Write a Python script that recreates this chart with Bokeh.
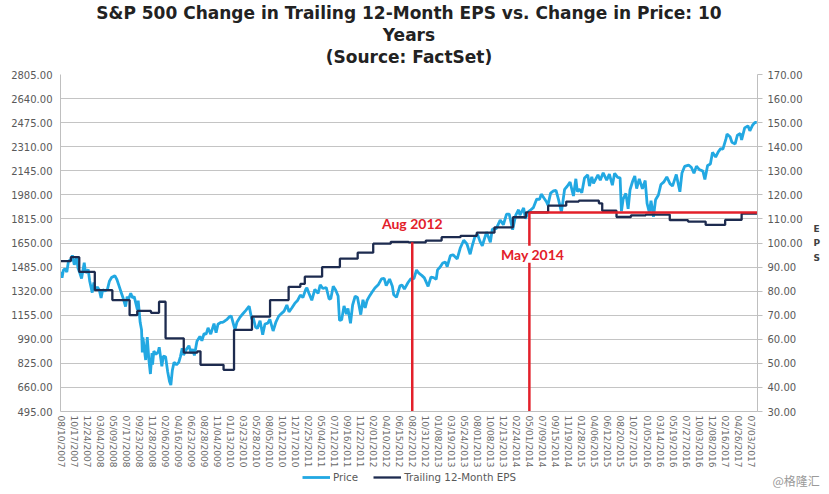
import numpy as np
import pandas as pd
from bokeh.plotting import figure
from bokeh.layouts import column
from bokeh.models import (Range1d, LinearAxis, FixedTicker, PrintfTickFormatter,
                          Legend, LegendItem, Label, Title)
from bokeh.embed import file_html
from bokeh.resources import INLINE

title_lines = ["S&P 500 Change in Trailing 12-Month EPS vs. Change in Price: 10",
               "Years", "(Source: FactSet)"]

x_labels = ["08/10/2007", "10/17/2007", "12/24/2007", "03/04/2008", "05/09/2008", "07/17/2008",
            "09/23/2008", "11/28/2008", "02/06/2009", "04/16/2009", "06/23/2009", "08/28/2009",
            "11/04/2009", "01/13/2010", "03/23/2010", "05/28/2010", "08/05/2010", "10/12/2010",
            "12/17/2010", "02/25/2011", "05/04/2011", "07/12/2011", "09/16/2011", "11/22/2011",
            "02/01/2012", "04/10/2012", "06/15/2012", "08/22/2012", "10/31/2012", "01/08/2013",
            "03/19/2013", "05/24/2013", "08/01/2013", "10/08/2013", "12/13/2013", "02/24/2014",
            "05/01/2014", "07/09/2014", "09/15/2014", "11/19/2014", "01/28/2015", "04/06/2015",
            "06/12/2015", "08/20/2015", "10/27/2015", "01/05/2016", "03/14/2016", "05/19/2016",
            "07/27/2016", "10/03/2016", "12/08/2016", "02/16/2017", "04/26/2017", "07/03/2017"]

price_ticks = [495, 660, 825, 990, 1155, 1320, 1485, 1650, 1815, 1980, 2145, 2310, 2475, 2640, 2805]
eps_ticks = [30, 40, 50, 60, 70, 80, 90, 100, 110, 120, 130, 140, 150, 160, 170]

price_dates = [
    "2007-08-10", "2007-08-16", "2007-08-23", "2007-08-31",
    "2007-09-10", "2007-09-19", "2007-09-28", "2007-10-09", "2007-10-19", "2007-10-31", "2007-11-08",
    "2007-11-15", "2007-11-26", "2007-12-10", "2007-12-17", "2007-12-31",
    "2008-01-08", "2008-01-22", "2008-01-31", "2008-02-08", "2008-02-19", "2008-02-29", "2008-03-10",
    "2008-03-18", "2008-03-31", "2008-04-11", "2008-04-21", "2008-05-02", "2008-05-19", "2008-05-30",
    "2008-06-09", "2008-06-20", "2008-06-30", "2008-07-15", "2008-07-23", "2008-07-31", "2008-08-11",
    "2008-08-20", "2008-08-29", "2008-09-09", "2008-09-15", "2008-09-19", "2008-09-29", "2008-10-06",
    "2008-10-10", "2008-10-13", "2008-10-27", "2008-11-04", "2008-11-12", "2008-11-20", "2008-11-28",
    "2008-12-01", "2008-12-08", "2008-12-19", "2008-12-31",
    "2009-01-06", "2009-01-20", "2009-01-28", "2009-02-09", "2009-02-20", "2009-03-02", "2009-03-09",
    "2009-03-17", "2009-03-26", "2009-04-08", "2009-04-20", "2009-04-29", "2009-05-08", "2009-05-15",
    "2009-05-29", "2009-06-12", "2009-06-23", "2009-07-01", "2009-07-10", "2009-07-23", "2009-08-07",
    "2009-08-17", "2009-08-28", "2009-09-08", "2009-09-18", "2009-10-02", "2009-10-19", "2009-10-30",
    "2009-11-09", "2009-11-24", "2009-12-04", "2009-12-14", "2009-12-28",
    "2010-01-11", "2010-01-19", "2010-02-08", "2010-02-19", "2010-03-05", "2010-03-22", "2010-04-05",
    "2010-04-23", "2010-05-06", "2010-05-14", "2010-05-25", "2010-06-04", "2010-06-18", "2010-07-02",
    "2010-07-14", "2010-07-29", "2010-08-09", "2010-08-26", "2010-09-10", "2010-09-24", "2010-10-08",
    "2010-10-22", "2010-11-05", "2010-11-16", "2010-12-01", "2010-12-15", "2010-12-31",
    "2011-01-14", "2011-01-28", "2011-02-11", "2011-02-18", "2011-03-01", "2011-03-16", "2011-04-01",
    "2011-04-18", "2011-04-29", "2011-05-13", "2011-05-31", "2011-06-15", "2011-06-24", "2011-07-07",
    "2011-07-20", "2011-08-01", "2011-08-08", "2011-08-19", "2011-08-31", "2011-09-12", "2011-09-20",
    "2011-10-03", "2011-10-14", "2011-10-27", "2011-11-08", "2011-11-25", "2011-12-07", "2011-12-19",
    "2011-12-30",
    "2012-01-13", "2012-01-27", "2012-02-10", "2012-02-29", "2012-03-16", "2012-03-30", "2012-04-10",
    "2012-04-27", "2012-05-11", "2012-05-18", "2012-06-01", "2012-06-19", "2012-06-29", "2012-07-12",
    "2012-07-31", "2012-08-14", "2012-08-31", "2012-09-14", "2012-09-28", "2012-10-12", "2012-10-26",
    "2012-11-15", "2012-11-30", "2012-12-14", "2012-12-28",
    "2013-01-04", "2013-01-18", "2013-02-01", "2013-02-15", "2013-02-25", "2013-03-14", "2013-03-28",
    "2013-04-18", "2013-05-03", "2013-05-21", "2013-06-07", "2013-06-24", "2013-07-05", "2013-07-19",
    "2013-08-02", "2013-08-15", "2013-08-27", "2013-09-18", "2013-10-08", "2013-10-18", "2013-11-07",
    "2013-11-27", "2013-12-13", "2013-12-31",
    "2014-01-15", "2014-02-03", "2014-02-20", "2014-03-07", "2014-03-14", "2014-04-02", "2014-04-11",
    "2014-04-25", "2014-05-09", "2014-05-22", "2014-06-09", "2014-06-24", "2014-07-03", "2014-07-17",
    "2014-07-31", "2014-08-07", "2014-08-21", "2014-09-05", "2014-09-18", "2014-10-01", "2014-10-15",
    "2014-10-31", "2014-11-13", "2014-11-28", "2014-12-16", "2014-12-29",
    "2015-01-06", "2015-01-16", "2015-01-30", "2015-02-13", "2015-03-02", "2015-03-11", "2015-03-23",
    "2015-04-01", "2015-04-24", "2015-05-06", "2015-05-21", "2015-06-08", "2015-06-22", "2015-07-08",
    "2015-07-20", "2015-08-05", "2015-08-18", "2015-08-25", "2015-09-03", "2015-09-17", "2015-09-29",
    "2015-10-09", "2015-10-23", "2015-11-03", "2015-11-13", "2015-11-27", "2015-12-14", "2015-12-29",
    "2016-01-08", "2016-01-20", "2016-01-29", "2016-02-11", "2016-02-22", "2016-03-08", "2016-03-21",
    "2016-04-04", "2016-04-20", "2016-05-06", "2016-05-19", "2016-06-08", "2016-06-27", "2016-07-08",
    "2016-07-22", "2016-08-12", "2016-08-26", "2016-09-09", "2016-09-22", "2016-10-07", "2016-10-25",
    "2016-11-04", "2016-11-18", "2016-12-02", "2016-12-13", "2016-12-30",
    "2017-01-13", "2017-01-26", "2017-02-07", "2017-02-24", "2017-03-01", "2017-03-17", "2017-03-27",
    "2017-04-13", "2017-04-25", "2017-05-10", "2017-05-17", "2017-06-02", "2017-06-19", "2017-06-29",
    "2017-07-14", "2017-07-26", "2017-08-04"]

price_values = [
    1453, 1411, 1463, 1474,
    1451, 1529, 1527, 1565, 1501, 1549, 1475, 1452, 1407, 1515, 1445, 1468,
    1390, 1310, 1379, 1331, 1348, 1330, 1273, 1330, 1322, 1332, 1388, 1413, 1426, 1400,
    1361, 1318, 1280, 1214, 1282, 1267, 1305, 1275, 1282, 1224, 1192, 1255, 1106, 1056,
    899, 1003, 848, 1005, 852, 752, 896, 816, 909, 887, 903,
    935, 805, 874, 870, 770, 700, 676, 778, 832, 815, 832, 873, 929, 882,
    919, 946, 895, 923, 879, 976, 1010, 980, 1028, 1025, 1068, 1025, 1097, 1036,
    1093, 1106, 1106, 1114, 1127,
    1146, 1150, 1056, 1109, 1138, 1165, 1187, 1217, 1128, 1135, 1074, 1064, 1117, 1022,
    1095, 1101, 1127, 1047, 1110, 1148, 1166, 1183, 1225, 1178, 1206, 1236, 1258,
    1293, 1276, 1329, 1343, 1306, 1257, 1332, 1305, 1364, 1338, 1345, 1266, 1268, 1354,
    1326, 1287, 1119, 1124, 1219, 1162, 1202, 1099, 1225, 1285, 1276, 1159, 1261, 1206,
    1258,
    1289, 1316, 1342, 1366, 1404, 1408, 1358, 1403, 1353, 1295, 1278, 1357, 1362, 1334,
    1379, 1404, 1406, 1465, 1441, 1428, 1411, 1353, 1416, 1413, 1402,
    1466, 1485, 1513, 1520, 1488, 1563, 1569, 1541, 1614, 1669, 1643, 1573, 1631, 1692,
    1709, 1661, 1631, 1725, 1655, 1745, 1748, 1807, 1775, 1848,
    1848, 1741, 1839, 1878, 1841, 1890, 1816, 1863, 1878, 1892, 1951, 1949, 1985, 1958,
    1931, 1910, 1992, 2007, 2011, 1946, 1862, 2018, 2039, 2067, 1972, 2090,
    2002, 2019, 1995, 2096, 2117, 2040, 2104, 2059, 2117, 2080, 2131, 2080, 2122, 2046,
    2128, 2100, 2097, 1868, 1951, 1990, 1884, 2015, 2075, 2109, 2023, 2090, 2022, 2078,
    1922, 1859, 1940, 1829, 1946, 1979, 2051, 2067, 2103, 2057, 2040, 2120, 2001, 2130,
    2175, 2184, 2169, 2128, 2177, 2153, 2143, 2085, 2182, 2192, 2271, 2239,
    2275, 2297, 2293, 2367, 2396, 2378, 2341, 2329, 2389, 2400, 2357, 2439, 2453, 2419,
    2459, 2477, 2476]

eps_dates = [
    "2007-08-10", "2007-10-01", "2007-11-14", "2008-02-05", "2008-05-06", "2008-08-05", "2008-09-14",
    "2008-11-23", "2009-01-05", "2009-02-09", "2009-05-16", "2009-07-25", "2009-08-10", "2009-12-09",
    "2010-02-03", "2010-05-07", "2010-08-10", "2010-11-14", "2011-01-14", "2011-02-07", "2011-05-09",
    "2011-08-10", "2011-11-09", "2012-02-01", "2012-05-03", "2012-08-03", "2012-11-03", "2013-01-26",
    "2013-05-05", "2013-07-29", "2013-10-29", "2014-02-05", "2014-04-13", "2014-08-08", "2014-11-08",
    "2015-01-14", "2015-04-29", "2015-05-16", "2015-07-30", "2015-10-14", "2016-01-01", "2016-05-05",
    "2016-08-09", "2016-11-08", "2017-02-19", "2017-05-17", "2017-08-04"]

eps_values = [
    92.5, 94.1, 88.0, 80.4, 76.3, 70.0, 71.8, 71.0, 75.6, 60.4, 54.5, 55.0, 49.4, 47.3,
    63.9, 69.4, 76.3, 81.8, 83.0, 86.0, 90.0, 93.5, 96.0, 99.7, 100.5, 100.3, 101.0, 102.4,
    103.0, 104.3, 106.5, 110.7, 112.7, 115.5, 117.2, 117.6, 116.5, 113.4, 110.8, 111.5, 111.8, 109.5,
    108.9, 107.5, 109.6, 112.2, 112.3]

marker_dates = ["08/22/2012", "05/01/2014"]
marker_names = ["Aug 2012", "May 2014"]
marker_eps = [100.3, 112.7]
marker_label_eps = [108.1, 95.3]
axis_end_date = "08/08/2017"
legend_labels = ["Price", "Trailing 12-Month EPS"]
watermark = "@格隆汇"

# trading-day style x axis: dates are placed by interpolation between the evenly spaced labels
lab_ord = np.array([pd.to_datetime(s).toordinal() for s in x_labels], dtype=float)
lab_idx = np.arange(len(x_labels), dtype=float)


def pos(s):
    o = pd.to_datetime(s).toordinal()
    if o <= lab_ord[0]:
        return (o - lab_ord[0]) / (lab_ord[1] - lab_ord[0])
    if o >= lab_ord[-1]:
        return lab_idx[-1] + (o - lab_ord[-1]) / (lab_ord[-1] - lab_ord[-2])
    return float(np.interp(o, lab_ord, lab_idx))


px = [pos(d) for d in price_dates]
ex = [pos(d) for d in eps_dates]
tick_x = [int(i) for i in lab_idx]
x_end = pos(axis_end_date)

PRICE_C = "#22A8E2"
EPS_C = "#1D2B4F"
RED = "#E3202A"
AX_C = "#595959"
GRID_C = "#C4C4C4"

p = figure(width=829, height=470, output_backend="svg", toolbar_location=None,
           x_range=Range1d(-0.03, x_end), y_range=Range1d(price_ticks[0], price_ticks[-1]),
           min_border_left=60, min_border_right=72, min_border_top=73, min_border_bottom=58)
p.extra_y_ranges = {"eps": Range1d(eps_ticks[0], eps_ticks[-1])}
p.outline_line_color = None
p.background_fill_color = "white"
p.border_fill_color = "white"

# small blank spacer between the plot and the title block
p.add_layout(Title(text=" ", text_font_size="6px", text_line_height=1.0, standoff=0), "above")
# title lines (first added sits closest to the plot)
for txt in [title_lines[2], title_lines[1], title_lines[0]]:
    p.add_layout(Title(text=txt, align="center", text_font="DejaVu Sans",
                       text_font_style="bold", text_font_size="17px", text_line_height=0.85,
                       text_color="#222222", standoff=0), "above")

# grids
p.xgrid.visible = False
p.ygrid.grid_line_color = GRID_C
p.ygrid.ticker = FixedTicker(ticks=price_ticks)

# left axis
ya = p.yaxis[0]
ya.ticker = FixedTicker(ticks=price_ticks)
ya.formatter = PrintfTickFormatter(format="%.2f")
ya.major_label_text_font = "DejaVu Sans"
ya.major_label_text_font_size = "10px"
ya.major_label_text_color = AX_C
ya.axis_line_color = "#BFBFBF"
ya.major_tick_out = 0
ya.major_tick_in = 0
ya.minor_tick_out = 0
ya.minor_tick_in = 0
ya.major_label_standoff = 8

# right axis
ra = LinearAxis(y_range_name="eps", ticker=FixedTicker(ticks=eps_ticks),
                formatter=PrintfTickFormatter(format="%.2f"))
ra.major_label_text_font = "DejaVu Sans"
ra.major_label_text_font_size = "10px"
ra.major_label_text_color = AX_C
ra.axis_line_color = "#BFBFBF"
ra.major_tick_line_color = "#BFBFBF"
ra.major_tick_out = 5
ra.major_tick_in = 0
ra.minor_tick_out = 0
ra.minor_tick_in = 0
ra.major_label_standoff = 5
ra.axis_label = "E\nP\nS"
ra.axis_label_orientation = "horizontal"
ra.axis_label_text_font = "DejaVu Sans"
ra.axis_label_text_font_style = "bold"
ra.axis_label_text_font_size = "9px"
ra.axis_label_text_color = "#404040"
ra.axis_label_text_line_height = 1.45
ra.axis_label_standoff = 8
p.add_layout(ra, "right")

# x axis
xa = p.xaxis[0]
xa.ticker = FixedTicker(ticks=tick_x)
xa.major_label_overrides = {t: s for t, s in zip(tick_x, x_labels)}
xa.major_label_orientation = "vertical"
xa.major_label_text_font = "DejaVu Sans"
xa.major_label_text_font_size = "9px"
xa.major_label_text_color = "#6A6A6A"
xa.axis_line_color = "#BFBFBF"
xa.major_tick_out = 0
xa.major_tick_in = 0
xa.minor_tick_out = 0
xa.minor_tick_in = 0
xa.major_label_standoff = 4

# series
price_r = p.line(px, price_values, line_color=PRICE_C, line_width=2.8)
eps_r = p.step(ex, eps_values, mode="after", line_color=EPS_C, line_width=2.3,
               y_range_name="eps")

# red markers
mx = [pos(d) for d in marker_dates]
p.segment(x0=mx, y0=[eps_ticks[0]] * 2, x1=mx, y1=marker_eps, line_color=RED,
          line_width=2.5, y_range_name="eps")
p.segment(x0=[mx[1]], y0=[marker_eps[1]], x1=[x_end], y1=[marker_eps[1]], line_color=RED,
          line_width=2.5, y_range_name="eps")

p.add_layout(Label(x=mx[0], y=marker_label_eps[0], y_range_name="eps", text=marker_names[0],
                   text_align="center", text_baseline="middle", text_font="Lato",
                   text_font_style="bold", text_font_size="14px", text_color=RED))
p.add_layout(Label(x=mx[1] + 0.25, y=marker_label_eps[1], y_range_name="eps",
                   text=marker_names[1], text_align="center", text_baseline="middle",
                   text_font="Lato", text_font_style="bold", text_font_size="14px",
                   text_color=RED, background_fill_color="white"))

# bottom strip: legend + watermark
f2 = figure(width=829, height=22, output_backend="svg", toolbar_location=None,
            x_range=Range1d(0, 829), y_range=Range1d(0, 22),
            x_axis_location=None, y_axis_location=None, min_border=0)
for fig in (p, f2):
    try:
        fig.frame_align = False
    except Exception:
        pass
f2.outline_line_color = None
f2.grid.visible = False
# legend keys (drawn off the visible strip; only their legend swatches show)
d1 = f2.line([-50, -40], [-50, -50], line_color=PRICE_C, line_width=2.8)
d2 = f2.line([-50, -40], [-50, -50], line_color=EPS_C, line_width=2.3)
legend = Legend(items=[LegendItem(label=legend_labels[0], renderers=[d1]),
                       LegendItem(label=legend_labels[1], renderers=[d2])],
                orientation="horizontal", location=(302, 9),
                border_line_alpha=0, background_fill_alpha=0,
                label_text_font="DejaVu Sans", label_text_font_size="10.3px",
                label_text_color=AX_C, glyph_width=28, glyph_height=12,
                label_standoff=3, spacing=15, padding=0, margin=0,
                label_height=12)
f2.add_layout(legend, "center")
f2.add_layout(Label(x=772, y=12, text=watermark, text_font="Noto Sans CJK SC",
                    text_font_size="12px", text_color="#9A9A9A", text_baseline="middle"))

open("out.html", "w").write(file_html(column(p, f2), INLINE))
